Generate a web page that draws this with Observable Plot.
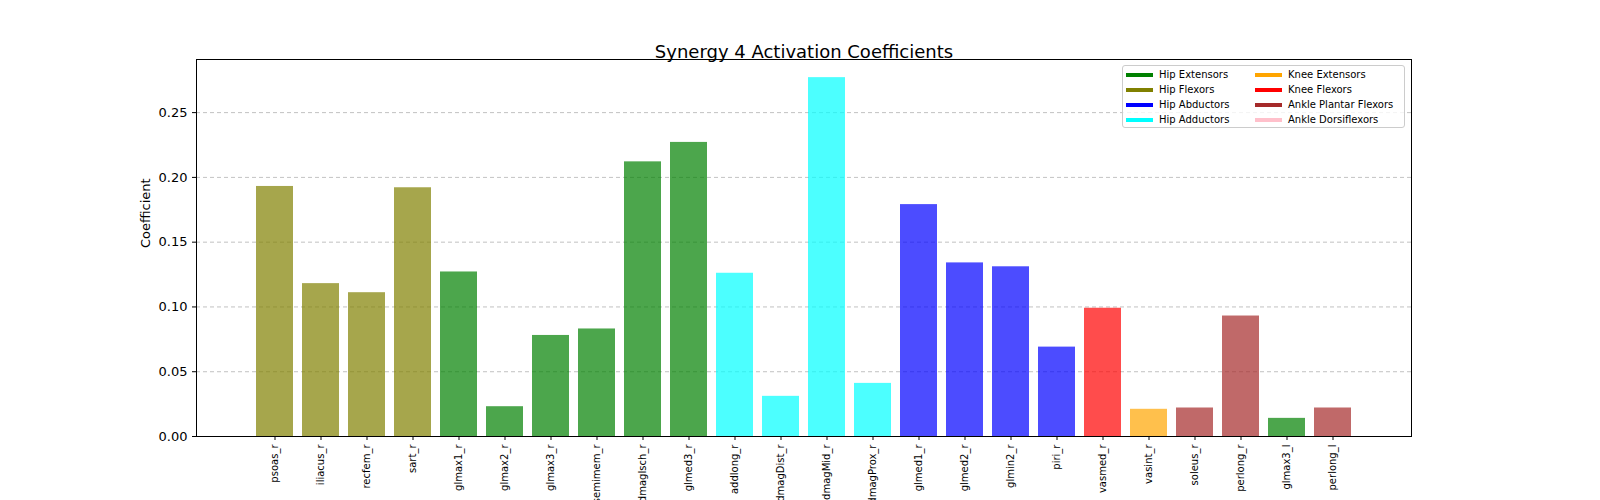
<!DOCTYPE html>
<html><head><meta charset="utf-8">
<script src="https://cdn.jsdelivr.net/npm/d3@7"></script>
<script src="https://cdn.jsdelivr.net/npm/@observablehq/plot@0.6"></script>
<style>
html,body{margin:0;background:#fff;font-family:"DejaVu Sans",sans-serif;overflow:hidden}
#wrap{position:relative;width:1600px;height:500px}
#chart svg{max-width:none !important}
#legend{position:absolute;left:1122px;top:65px;width:283px;height:63px;border:1px solid #ccc;border-radius:3px;background:rgba(255,255,255,.8);font-size:10px;display:grid;grid-template-columns:129px 150px;grid-auto-flow:column;grid-template-rows:repeat(4,15px);padding:1px 0 0 3px;box-sizing:border-box}
#legend div{display:flex;align-items:center}
#legend span{display:inline-block;width:27px;height:4px;margin-right:6px}
</style></head><body>
<div id="wrap"><div id="chart"></div><div id="legend"></div></div>
<script>
const muscles = ["psoas_r","iliacus_r","recfem_r","sart_r","glmax1_r","glmax2_r","glmax3_r","semimem_r","addmagIsch_r","glmed3_r","addlong_r","addmagDist_r","addmagMid_r","addmagProx_r","glmed1_r","glmed2_r","glmin2_r","piri_r","vasmed_r","vasint_r","soleus_r","perlong_r","glmax3_l","perlong_l"];
const values = [0.193,0.118,0.111,0.192,0.127,0.023,0.078,0.083,0.212,0.227,0.126,0.031,0.277,0.041,0.179,0.134,0.131,0.069,0.099,0.021,0.022,0.093,0.014,0.022];
const groups = ["Hip Flexors","Hip Flexors","Hip Flexors","Hip Flexors","Hip Extensors","Hip Extensors","Hip Extensors","Hip Extensors","Hip Extensors","Hip Extensors","Hip Adductors","Hip Adductors","Hip Adductors","Hip Adductors","Hip Abductors","Hip Abductors","Hip Abductors","Hip Abductors","Knee Flexors","Knee Extensors","Ankle Plantar Flexors","Ankle Plantar Flexors","Hip Extensors","Ankle Plantar Flexors"];
const groupNames = ["Hip Extensors","Hip Flexors","Hip Abductors","Hip Adductors","Knee Extensors","Knee Flexors","Ankle Plantar Flexors","Ankle Dorsiflexors"];
const groupColors = ["green","olive","blue","cyan","orange","red","brown","pink"];
const yTicks = [0,0.05,0.1,0.15,0.2,0.25];

const data = muscles.map((m, i) => ({muscle: m, value: values[i], group: groups[i]}));

const chart = Plot.plot({
  width: 1600, height: 500,
  marginTop: 59, marginBottom: 64, marginLeft: 196, marginRight: 189,
  style: {fontFamily: "DejaVu Sans", fontSize: "12px", color: "#000", maxWidth: "none"},
  x: {domain: muscles, paddingInner: 0.2, paddingOuter: 1.17, label: null},
  y: {domain: [0, 0.291], ticks: yTicks, tickFormat: d3.format(".2f"), label: "Coefficient"},
  color: {domain: groupNames, range: groupColors},
  marks: [
    Plot.gridY(yTicks.slice(1), {stroke: "#999", strokeOpacity: 0.6, strokeDasharray: "4,3"}),
    Plot.barY(data, {x: "muscle", y: "value", fill: "group", fillOpacity: 0.7}),
    Plot.axisX({tickRotate: -90, textAnchor: "end", fontSize: 10, tickSize: 4, tickPadding: 4, label: null}),
    Plot.axisY({ticks: yTicks, tickFormat: d3.format(".2f"), tickSize: 4, fontSize: 13, label: null}),
    Plot.text(["Coefficient"], {frameAnchor: "left", dx: -51, rotate: -90, fontSize: 13}),
    Plot.text(["Synergy 4 Activation Coefficients"], {frameAnchor: "top", dy: -14, fontSize: 18}),
    Plot.frame({stroke: "#000"})
  ]
});
document.getElementById("chart").append(chart);

const lg = document.getElementById("legend");
groupNames.forEach((g, i) => {
  const d = document.createElement("div");
  d.innerHTML = `<span style="background:${groupColors[i]}"></span>${g}`;
  lg.append(d);
});
</script></body></html>
